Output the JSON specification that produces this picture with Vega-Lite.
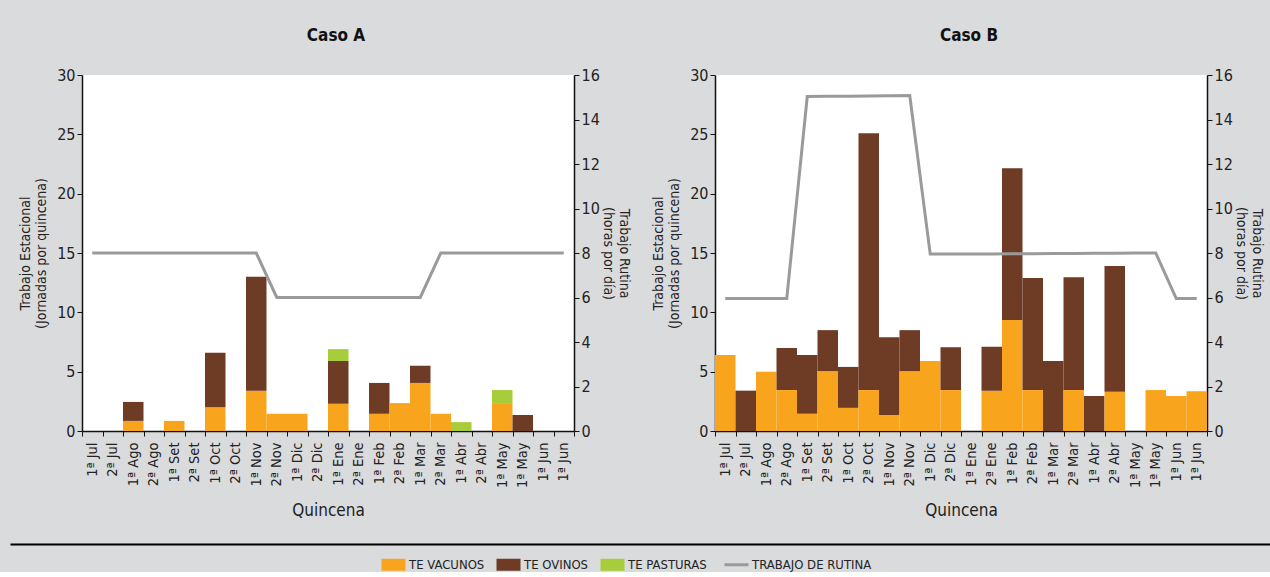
{
  "$schema": "https://vega.github.io/schema/vega-lite/v6.json",
  "background": "#dadbdd",
  "padding": {"left": 10, "top": 27, "right": 0, "bottom": 0},
  "datasets": {
    "barrasA": [
      {"q": 3, "serie": "TE VACUNOS", "valor": 0.85},
      {"q": 3, "serie": "TE OVINOS", "valor": 1.6},
      {"q": 5, "serie": "TE VACUNOS", "valor": 0.85},
      {"q": 7, "serie": "TE VACUNOS", "valor": 2.0},
      {"q": 7, "serie": "TE OVINOS", "valor": 4.6},
      {"q": 9, "serie": "TE VACUNOS", "valor": 3.4},
      {"q": 9, "serie": "TE OVINOS", "valor": 9.6},
      {"q": 10, "serie": "TE VACUNOS", "valor": 1.45},
      {"q": 11, "serie": "TE VACUNOS", "valor": 1.45},
      {"q": 13, "serie": "TE VACUNOS", "valor": 2.3},
      {"q": 13, "serie": "TE OVINOS", "valor": 3.6},
      {"q": 13, "serie": "TE PASTURAS", "valor": 1.0},
      {"q": 15, "serie": "TE VACUNOS", "valor": 1.45},
      {"q": 15, "serie": "TE OVINOS", "valor": 2.6},
      {"q": 16, "serie": "TE VACUNOS", "valor": 2.35},
      {"q": 17, "serie": "TE VACUNOS", "valor": 4.05},
      {"q": 17, "serie": "TE OVINOS", "valor": 1.45},
      {"q": 18, "serie": "TE VACUNOS", "valor": 1.45},
      {"q": 19, "serie": "TE PASTURAS", "valor": 0.75},
      {"q": 21, "serie": "TE VACUNOS", "valor": 2.35},
      {"q": 21, "serie": "TE PASTURAS", "valor": 1.1},
      {"q": 22, "serie": "TE OVINOS", "valor": 1.35}
    ],
    "barrasB": [
      {"q": 1, "serie": "TE VACUNOS", "valor": 6.4},
      {"q": 2, "serie": "TE OVINOS", "valor": 3.4},
      {"q": 3, "serie": "TE VACUNOS", "valor": 5.0},
      {"q": 4, "serie": "TE VACUNOS", "valor": 3.45},
      {"q": 4, "serie": "TE OVINOS", "valor": 3.55},
      {"q": 5, "serie": "TE VACUNOS", "valor": 1.45},
      {"q": 5, "serie": "TE OVINOS", "valor": 4.95},
      {"q": 6, "serie": "TE VACUNOS", "valor": 5.05},
      {"q": 6, "serie": "TE OVINOS", "valor": 3.45},
      {"q": 7, "serie": "TE VACUNOS", "valor": 1.95},
      {"q": 7, "serie": "TE OVINOS", "valor": 3.45},
      {"q": 8, "serie": "TE VACUNOS", "valor": 3.45},
      {"q": 8, "serie": "TE OVINOS", "valor": 21.65},
      {"q": 9, "serie": "TE VACUNOS", "valor": 1.35},
      {"q": 9, "serie": "TE OVINOS", "valor": 6.55},
      {"q": 10, "serie": "TE VACUNOS", "valor": 5.05},
      {"q": 10, "serie": "TE OVINOS", "valor": 3.45},
      {"q": 11, "serie": "TE VACUNOS", "valor": 5.9},
      {"q": 12, "serie": "TE VACUNOS", "valor": 3.45},
      {"q": 12, "serie": "TE OVINOS", "valor": 3.6},
      {"q": 14, "serie": "TE VACUNOS", "valor": 3.4},
      {"q": 14, "serie": "TE OVINOS", "valor": 3.7},
      {"q": 15, "serie": "TE VACUNOS", "valor": 9.35},
      {"q": 15, "serie": "TE OVINOS", "valor": 12.8},
      {"q": 16, "serie": "TE VACUNOS", "valor": 3.45},
      {"q": 16, "serie": "TE OVINOS", "valor": 9.45},
      {"q": 17, "serie": "TE OVINOS", "valor": 5.9},
      {"q": 18, "serie": "TE VACUNOS", "valor": 3.45},
      {"q": 18, "serie": "TE OVINOS", "valor": 9.5},
      {"q": 19, "serie": "TE OVINOS", "valor": 2.95},
      {"q": 20, "serie": "TE VACUNOS", "valor": 3.3},
      {"q": 20, "serie": "TE OVINOS", "valor": 10.6},
      {"q": 22, "serie": "TE VACUNOS", "valor": 3.45},
      {"q": 23, "serie": "TE VACUNOS", "valor": 2.95},
      {"q": 24, "serie": "TE VACUNOS", "valor": 3.35}
    ],
    "rutinaA": [
      {"q": 1, "horas": 8}, {"q": 2, "horas": 8}, {"q": 3, "horas": 8}, {"q": 4, "horas": 8},
      {"q": 5, "horas": 8}, {"q": 6, "horas": 8}, {"q": 7, "horas": 8}, {"q": 8, "horas": 8},
      {"q": 9, "horas": 8}, {"q": 10, "horas": 6}, {"q": 11, "horas": 6}, {"q": 12, "horas": 6},
      {"q": 13, "horas": 6}, {"q": 14, "horas": 6}, {"q": 15, "horas": 6}, {"q": 16, "horas": 6},
      {"q": 17, "horas": 6}, {"q": 18, "horas": 8}, {"q": 19, "horas": 8}, {"q": 20, "horas": 8},
      {"q": 21, "horas": 8}, {"q": 22, "horas": 8}, {"q": 23, "horas": 8}, {"q": 24, "horas": 8}
    ],
    "rutinaB": [
      {"q": 1, "horas": 5.95}, {"q": 2, "horas": 5.95}, {"q": 3, "horas": 5.95}, {"q": 4, "horas": 5.95},
      {"q": 5, "horas": 15.03}, {"q": 6, "horas": 15.04}, {"q": 7, "horas": 15.05}, {"q": 8, "horas": 15.06},
      {"q": 9, "horas": 15.07}, {"q": 10, "horas": 15.08}, {"q": 11, "horas": 7.95}, {"q": 12, "horas": 7.95},
      {"q": 13, "horas": 7.96}, {"q": 14, "horas": 7.96}, {"q": 15, "horas": 7.97}, {"q": 16, "horas": 7.97},
      {"q": 17, "horas": 7.98}, {"q": 18, "horas": 7.98}, {"q": 19, "horas": 7.99}, {"q": 20, "horas": 7.99},
      {"q": 21, "horas": 8}, {"q": 22, "horas": 8}, {"q": 23, "horas": 5.95}, {"q": 24, "horas": 5.95}
    ]
  },
  "vconcat": [
    {
      "hconcat": [
        {
          "title": {"text": "Caso A", "dx": 8},
          "width": 492,
          "height": 356,
          "layer": [
            {
              "data": {"name": "barrasA"},
              "transform": [{"window": [{"op": "row_number", "as": "capa"}], "groupby": ["q"]}],
              "mark": {"type": "bar"},
              "encoding": {
                "x": {
                  "field": "q", "type": "ordinal",
                  "scale": {"domain": [1,2,3,4,5,6,7,8,9,10,11,12,13,14,15,16,17,18,19,20,21,22,23,24], "paddingInner": 0, "paddingOuter": 0},
                  "axis": {
                    "title": "Quincena",
                    "labelAngle": -90,
                    "tickBand": "extent",
                    "labelExpr": "['1ª Jul','2ª Jul','1ª Ago','2ª Ago','1ª Set','2ª Set','1ª Oct','2ª Oct','1ª Nov','2ª Nov','1ª Dic','2ª Dic','1ª Ene','2ª Ene','1ª Feb','2ª Feb','1ª Mar','2ª Mar','1ª Abr','2ª Abr','1ª May','1ª May','1ª Jun','1ª Jun'][datum.value - 1]"
                  }
                },
                "y": {
                  "field": "valor", "type": "quantitative", "stack": "zero",
                  "scale": {"domain": [0, 30]},
                  "axis": {"title": ["Trabajo Estacional", "(Jornadas por quincena)"], "values": [0,5,10,15,20,25,30], "labelFontSize": 16, "titlePadding": 8}
                },
                "order": {"field": "capa", "type": "quantitative"},
                "color": {
                  "field": "serie", "type": "nominal",
                  "scale": {"domain": ["TE VACUNOS", "TE OVINOS", "TE PASTURAS", "TRABAJO DE RUTINA"], "range": ["#f8a51d", "#6e3b24", "#a7cd3a", "#9a9a9a"]},
                  "legend": {
                    "encode": {
                      "symbols": {
                        "update": {
                          "shape": {"signal": "datum.value === 'TRABAJO DE RUTINA' ? 'M-1,0H1' : 'M-1,-0.5H1V0.5H-1Z'"},
                          "strokeWidth": {"signal": "datum.value === 'TRABAJO DE RUTINA' ? 3 : 0"},
                          "fill": {"scale": "color", "field": "value"},
                          "stroke": {"scale": "color", "field": "value"},
                          "opacity": {"value": 1}
                        }
                      }
                    }
                  }
                }
              }
            },
            {
              "data": {"name": "rutinaA"},
              "mark": {"type": "line", "strokeWidth": 3},
              "encoding": {
                "x": {"field": "q", "type": "ordinal"},
                "y": {
                  "field": "horas", "type": "quantitative",
                  "scale": {"domain": [0, 16]},
                  "axis": {"orient": "right", "title": ["Trabajo Rutina", "(horas por día)"], "values": [0,2,4,6,8,10,12,14,16], "labelFontSize": 16, "titlePadding": 1}
                },
                "color": {"datum": "TRABAJO DE RUTINA"}
              }
            }
          ],
          "resolve": {"scale": {"y": "independent"}}
        },
        {
          "title": {"text": "Caso B", "dx": 8},
          "width": 492,
          "height": 356,
          "layer": [
            {
              "data": {"name": "barrasB"},
              "transform": [{"window": [{"op": "row_number", "as": "capa"}], "groupby": ["q"]}],
              "mark": {"type": "bar"},
              "encoding": {
                "x": {
                  "field": "q", "type": "ordinal",
                  "scale": {"domain": [1,2,3,4,5,6,7,8,9,10,11,12,13,14,15,16,17,18,19,20,21,22,23,24], "paddingInner": 0, "paddingOuter": 0},
                  "axis": {
                    "title": "Quincena",
                    "labelAngle": -90,
                    "tickBand": "extent",
                    "labelExpr": "['1ª Jul','2ª Jul','1ª Ago','2ª Ago','1ª Set','2ª Set','1ª Oct','2ª Oct','1ª Nov','2ª Nov','1ª Dic','2ª Dic','1ª Ene','2ª Ene','1ª Feb','2ª Feb','1ª Mar','2ª Mar','1ª Abr','2ª Abr','1ª May','1ª May','1ª Jun','1ª Jun'][datum.value - 1]"
                  }
                },
                "y": {
                  "field": "valor", "type": "quantitative", "stack": "zero",
                  "scale": {"domain": [0, 30]},
                  "axis": {"title": ["Trabajo Estacional", "(Jornadas por quincena)"], "values": [0,5,10,15,20,25,30], "labelFontSize": 16, "titlePadding": 8}
                },
                "order": {"field": "capa", "type": "quantitative"},
                "color": {
                  "field": "serie", "type": "nominal",
                  "scale": {"domain": ["TE VACUNOS", "TE OVINOS", "TE PASTURAS", "TRABAJO DE RUTINA"], "range": ["#f8a51d", "#6e3b24", "#a7cd3a", "#9a9a9a"]}
                }
              }
            },
            {
              "data": {"name": "rutinaB"},
              "mark": {"type": "line", "strokeWidth": 3},
              "encoding": {
                "x": {"field": "q", "type": "ordinal"},
                "y": {
                  "field": "horas", "type": "quantitative",
                  "scale": {"domain": [0, 16]},
                  "axis": {"orient": "right", "title": ["Trabajo Rutina", "(horas por día)"], "values": [0,2,4,6,8,10,12,14,16], "labelFontSize": 16, "titlePadding": 1}
                },
                "color": {"datum": "TRABAJO DE RUTINA"}
              }
            }
          ],
          "resolve": {"scale": {"y": "independent"}}
        }
      ],
      "spacing": 20
    },
    {
      "width": 1188,
      "height": 1,
      "view": {"fill": null, "stroke": null},
      "data": {"values": [{"x": 0}, {"x": 1}]},
      "mark": {"type": "rule", "opacity": 0},
      "encoding": {
        "x": {"field": "x", "type": "quantitative", "scale": {"domain": [0, 1], "nice": false, "range": [-72, 1188]},
              "axis": {"orient": "top", "domainColor": "#000000", "domainWidth": 2, "ticks": false, "labels": false, "title": null, "grid": false}}
      }
    }
  ],
  "spacing": 25,
  "config": {
    "font": "DejaVu Sans Condensed, Roboto, sans-serif",
    "view": {"fill": "#ffffff", "stroke": null},
    "title": {"fontSize": 17, "fontWeight": "bold", "color": "#111111", "offset": 22, "anchor": "middle", "font": "DejaVu Sans Condensed, Roboto, sans-serif"},
    "axis": {
      "domainColor": "#111111", "tickColor": "#111111", "labelColor": "#222222", "titleColor": "#222222",
      "labelFont": "DejaVu Sans Condensed, Roboto, sans-serif", "titleFont": "DejaVu Sans Condensed, Roboto, sans-serif",
      "titleFontWeight": "normal", "titleFontSize": 14, "labelFontSize": 13, "tickSize": 5, "grid": false, "domainWidth": 1.5
    },
    "axisX": {"titleFontSize": 17, "labelPadding": 6, "labelFontSize": 14.5, "titlePadding": 15},
    "legend": {
      "orient": "none", "legendX": 305, "legendY": 483, "direction": "horizontal", "title": null,
      "labelFont": "DejaVu Sans Condensed, Roboto, sans-serif", "labelFontSize": 13, "labelColor": "#222222",
      "symbolSize": 576, "columnPadding": 11, "labelOffset": 9
    }
  }
}
